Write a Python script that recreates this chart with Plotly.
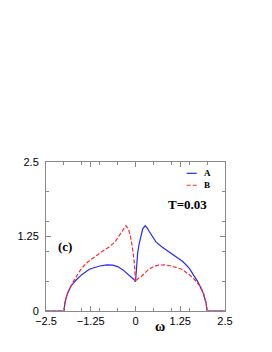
import plotly.graph_objects as go

omega = [-2.5, -2.0, -1.97, -1.95, -1.9, -1.8, -1.66, -1.5, -1.29, -1.0, -0.8, -0.64, -0.5, -0.35,
         -0.25, -0.16, -0.08, -0.03, 0.0, 0.01, 0.03, 0.06, 0.1, 0.15, 0.2, 0.27, 0.33, 0.39,
         0.47, 0.57, 0.75, 0.94, 1.13, 1.32, 1.5, 1.6, 1.75, 1.88, 1.95, 1.97, 2.0, 2.5]
dos_A = [0.0, 0.0, 0.14, 0.2, 0.3, 0.42, 0.52, 0.61, 0.70, 0.755, 0.775, 0.77, 0.745, 0.69,
         0.64, 0.58, 0.55, 0.52, 0.49, 0.6, 0.8, 0.97, 1.12, 1.28, 1.38, 1.43, 1.39, 1.33,
         1.25, 1.16, 1.07, 0.995, 0.92, 0.83, 0.72, 0.63, 0.48, 0.32, 0.2, 0.14, 0.0, 0.0]
# B is read as the mirror image of A: B(w) = A(-w)
omega_B = [-w for w in omega][::-1]
dos_B = dos_A[::-1]

x_ticks = [-2.5, -1.25, 0, 1.25, 2.5]
x_ticklabels = ["\u22122.5", "\u22121.25", "0", "1.25", "2.5"]
y_ticks = [0, 1.25, 2.5]
y_ticklabels = ["0", "1.25", "2.5"]
minor_x = [-2, -1.5, -1, -0.5, 0.5, 1, 1.5, 2]
minor_y = [0.5, 1, 1.5, 2]

series_names = ["A", "B"]
series_colors = ["#2828ff", "#ff2828"]
series_dash = ["solid", "4px,2px"]

fig = go.Figure()
fig.add_trace(go.Scatter(x=omega, y=dos_A, mode="lines", name=series_names[0],
                         line=dict(color=series_colors[0], width=1.2, dash=series_dash[0])))
fig.add_trace(go.Scatter(x=omega_B, y=dos_B, mode="lines", name=series_names[1],
                         line=dict(color=series_colors[1], width=1.2, dash=series_dash[1])))

axis_common = dict(showline=True, linecolor="#8a8a8a", linewidth=1, mirror="ticks",
                   ticks="inside", ticklen=5, tickcolor="#8a8a8a", showgrid=False,
                   zeroline=False, automargin=False,
                   tickfont=dict(family="Liberation Sans", size=11, color="black"))

fig.update_xaxes(range=[-2.5, 2.5], tickvals=x_ticks, ticktext=x_ticklabels,
                 minor=dict(tickvals=minor_x, ticklen=3, ticks="inside", tickcolor="#8a8a8a"),
                 **axis_common)
fig.update_yaxes(range=[0, 2.5], tickvals=y_ticks, ticktext=y_ticklabels,
                 minor=dict(tickvals=minor_y, ticklen=3, ticks="inside", tickcolor="#8a8a8a"),
                 ticklabelstandoff=4, **axis_common)

# manual legend (short line samples, as in the reference)
leg_y = [2.31, 2.11]
for i in range(2):
    fig.add_shape(type="line", xref="x", yref="y", x0=1.43, x1=1.71, y0=leg_y[i], y1=leg_y[i],
                  line=dict(color=series_colors[i], width=1.2, dash=series_dash[i]))
    fig.add_annotation(x=1.86, y=leg_y[i], xref="x", yref="y", text="<b>%s</b>" % series_names[i],
                       showarrow=False, xanchor="left",
                       font=dict(family="Liberation Serif", size=9, color="black"))

fig.add_annotation(x=-1.97, y=1.09, xref="x", yref="y", text="<b>(c)</b>", showarrow=False,
                   font=dict(family="Liberation Serif", size=13, color="black"))
fig.add_annotation(x=1.45, y=1.78, xref="x", yref="y", text="<b>T=0.03</b>", showarrow=False,
                   font=dict(family="Liberation Serif", size=13, color="black"))
fig.add_annotation(x=0.637, y=-0.107, xref="paper", yref="paper", text="<b>\u03c9</b>",
                   showarrow=False, yanchor="middle",
                   font=dict(family="Liberation Serif", size=14, color="black"))

fig.update_layout(
    width=264, height=344,
    margin=dict(l=38, r=47, t=154, b=41),
    paper_bgcolor="white", plot_bgcolor="white",
    showlegend=False,
)

fig.write_html("out.html")
